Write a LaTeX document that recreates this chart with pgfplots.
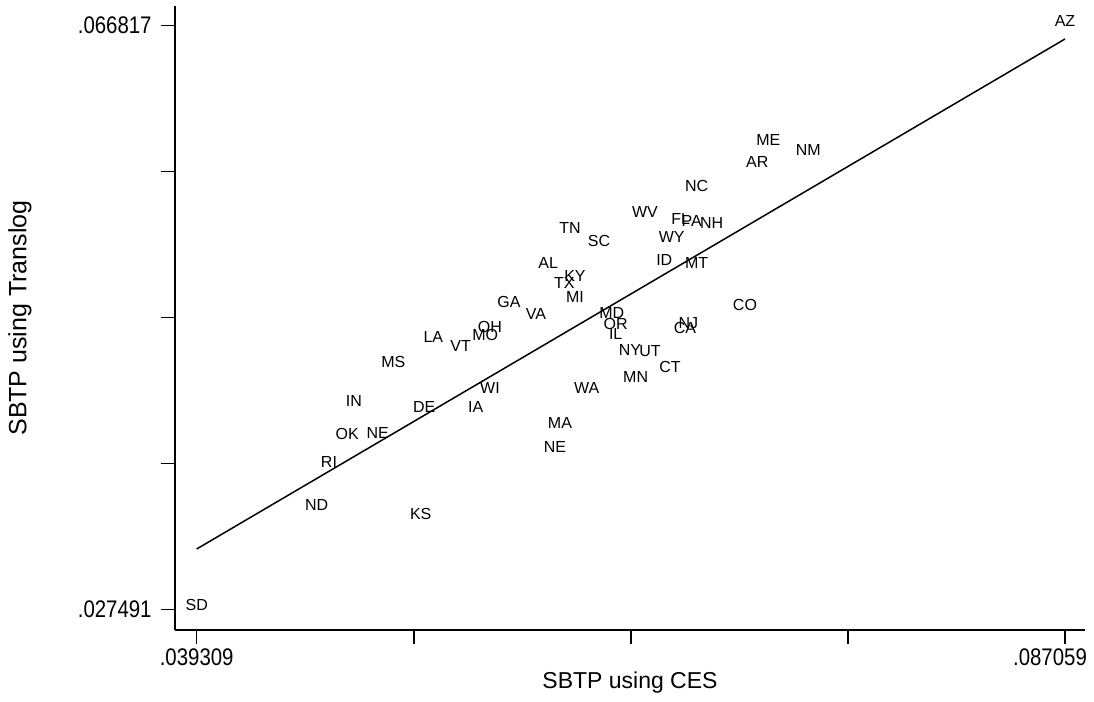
\documentclass[border=0pt]{standalone}
\usepackage{pgfplots}
\usepackage{pgfplotstable}
\usepackage{graphicx}
\usepackage{fontspec}
\setmainfont{Liberation Sans}
\pgfplotsset{compat=1.18}

% SBTP by state: CES (x) vs Translog (y)
\pgfplotstableread{
x        y        st
.058644  .050521  AL
.060113  .049646  KY
.059524  .049134  TX
.060113  .048231  MI
.056483  .047895  GA
.057968  .047067  VA
.055438  .046211  OH
.055180  .045632  MO
.052320  .045538  LA
.053827  .044932  VT
.050120  .043814  MS
.062131  .047114  MD
.062351  .046393  OR
.062351  .045700  IL
.055438  .042104  WI
.047959  .041208  IN
.051825  .040824  DE
.054652  .040824  IA
.060756  .042104  WA
.059288  .039747  MA
.059013  .038131  NE
.047591  .038986  OK
.049263  .039073  NE
.046584  .037080  RI
.045908  .034205  ND
.051627  .033599  KS
.039309  .027491  SD
.070743  .058784  ME
.072942  .058110  NM
.070138  .057322  AR
.066805  .055686  NC
.063962  .053955  WV
.065925  .053443  FL
.066530  .053349  PA
.067630  .053174  NH
.059838  .052878  TN
.061432  .052002  SC
.065430  .052231  WY
.065023  .050703  ID
.066805  .050521  MT
.069461  .047672  CO
.066343  .046481  NJ
.066161  .046103  CA
.063137  .044642  NY
.064237  .044595  UT
.065337  .043518  CT
.063450  .042804  MN
.087059  .066817  AZ
}\states

\newcommand{\cx}[1]{\scalebox{0.85}[1]{#1}}

\begin{document}
\begin{tikzpicture}
\begin{axis}[
  at={(0,0)}, anchor=south west,
  scale only axis, width=455pt, height=312pt,
  xmin=.038116, xmax=.088159, ymin=.026124, ymax=.068144,
  axis x line=bottom, axis y line=left,
  axis line style={-, line width=0.8pt},
  tick align=outside, major tick length=7pt,
  tick style={line width=0.8pt, black},
  scaled ticks=false,
  xtick={.039309,.0512465,.063184,.0751215,.087059},
  xticklabels={\cx{.039309},,,,\hbox{\cx{.087059}\hspace{15pt}}},
  ytick={.027491,.0373225,.047154,.0569855,.066817},
  yticklabels={\cx{.027491},,,,\cx{.066817}},
  ticklabel style={font=\fontsize{12}{12}\selectfont},
  xticklabel style={inner sep=0pt, yshift=-2pt},
  yticklabel style={inner sep=0pt, xshift=-4.5pt},
  xlabel={SBTP using CES},
  ylabel={SBTP using Translog},
  xlabel style={at={(axis description cs:0.5,0)}, anchor=center, yshift=-26.5pt, font=\fontsize{11.5}{12}\selectfont},
  ylabel style={at={(axis description cs:0,0.5)}, anchor=center, yshift=77.5pt, font=\fontsize{12.5}{13}\selectfont},
  clip=false,
]
\addplot[draw=none, mark=none, nodes near coords, point meta=explicit symbolic,
  every node near coord/.style={anchor=center, yshift=2.5pt, inner sep=0pt,
    font=\fontsize{8}{8}\selectfont, text=black}]
  table[x=x, y=y, meta=st] {\states};
\addplot[black, line width=0.75pt, mark=none] coordinates {(.039309,.031579) (.087059,.065922)};
\end{axis}
\pgfresetboundingbox
\path (-87.5pt,-36pt) rectangle (459.5pt,315pt);
\end{tikzpicture}
\end{document}
